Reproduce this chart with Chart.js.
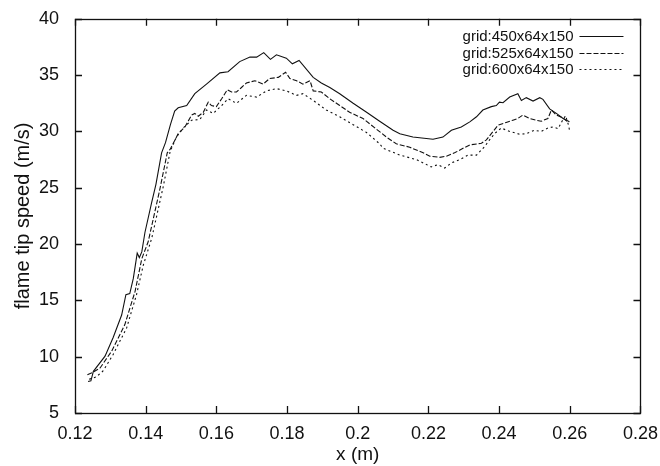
<!DOCTYPE html>
<html>
<head>
<meta charset="utf-8">
<script src="https://cdn.jsdelivr.net/npm/chart.js@4/dist/chart.umd.min.js"></script>
<style>
    html, body { margin: 0; padding: 0; background: #fff; }
    #wrap { width: 660px; height: 466px; }
</style>
</head>
<body>
<div id="wrap"><canvas id="chart" width="660" height="466"></canvas></div>
<script>
const seriesLabels = ['grid:450x64x150', 'grid:525x64x150', 'grid:600x64x150'];

/* grid 450x64x150 (solid) */
const x450 = [0.1237, 0.1245, 0.1252, 0.1285, 0.1308, 0.1332, 0.1344, 0.1355, 0.1365, 0.1376, 0.1382, 0.1389, 0.1398, 0.1417, 0.1429, 0.1445, 0.1456, 0.147, 0.1482, 0.1492, 0.1516, 0.1539, 0.1572, 0.161, 0.1633, 0.1666, 0.1695, 0.1714, 0.1734, 0.1753, 0.177, 0.1798, 0.1815, 0.1834, 0.1874, 0.1897, 0.1921, 0.1949, 0.1987, 0.2025, 0.2062, 0.21, 0.2119, 0.2156, 0.2213, 0.2241, 0.2265, 0.2293, 0.2317, 0.2336, 0.2354, 0.2378, 0.2392, 0.2401, 0.2411, 0.243, 0.2453, 0.2463, 0.2477, 0.2496, 0.2515, 0.2524, 0.2543, 0.2562, 0.2581, 0.2599];
const y450 = [7.8, 7.85, 8.7, 10.05, 11.7, 13.7, 15.5, 15.6, 16.95, 19.2, 18.8, 19.3, 21.05, 23.7, 25.3, 28.1, 29.0, 30.6, 31.8, 32.1, 32.3, 33.35, 34.2, 35.2, 35.3, 36.2, 36.6, 36.6, 37.0, 36.4, 36.8, 36.5, 36.0, 36.3, 34.8, 34.3, 33.9, 33.35, 32.5, 31.7, 30.9, 30.1, 29.8, 29.5, 29.3, 29.5, 30.1, 30.4, 30.85, 31.3, 31.9, 32.2, 32.3, 32.6, 32.55, 33.05, 33.35, 32.75, 33.0, 32.7, 33.0, 32.85, 32.0, 31.6, 31.15, 30.85];

/* grid 525x64x150 (dashed) */
const x525 = [0.1235, 0.125, 0.1271, 0.1304, 0.1341, 0.137, 0.1389, 0.1407, 0.144, 0.1461, 0.1469, 0.1492, 0.1511, 0.153, 0.1539, 0.1549, 0.1563, 0.1577, 0.1586, 0.16, 0.1615, 0.1631, 0.1643, 0.1657, 0.1671, 0.1685, 0.1709, 0.1732, 0.1751, 0.1775, 0.1796, 0.1808, 0.1827, 0.1845, 0.1865, 0.1874, 0.1897, 0.1921, 0.1949, 0.1977, 0.2015, 0.2053, 0.2081, 0.2109, 0.2147, 0.2185, 0.2204, 0.2232, 0.2251, 0.2274, 0.2298, 0.2317, 0.235, 0.2364, 0.2378, 0.2397, 0.242, 0.2439, 0.2453, 0.2467, 0.2486, 0.2505, 0.2519, 0.2538, 0.2548, 0.2562, 0.2581, 0.2595];
const y525 = [8.4, 8.6, 9.0, 10.5, 12.85, 15.8, 18.7, 20.2, 24.85, 28.1, 28.4, 29.8, 30.4, 31.45, 31.6, 31.35, 31.7, 32.6, 32.3, 32.2, 32.9, 33.7, 33.5, 33.5, 33.9, 34.3, 34.5, 34.2, 34.7, 34.8, 35.25, 34.7, 34.5, 34.2, 34.5, 33.6, 33.5, 32.9, 32.3, 31.7, 31.15, 30.2, 29.5, 28.9, 28.6, 28.1, 27.8, 27.7, 27.8, 28.1, 28.5, 28.8, 28.95, 29.25, 29.8, 30.55, 30.8, 31.0, 31.15, 31.45, 31.15, 31.0, 30.9, 31.15, 31.9, 31.45, 31.2, 30.8];

/* grid 600x64x150 (dotted) */
const x600 = [0.124, 0.126, 0.128, 0.1308, 0.1346, 0.1374, 0.1393, 0.1417, 0.145, 0.1469, 0.1487, 0.1506, 0.153, 0.1553, 0.1572, 0.1591, 0.1615, 0.1633, 0.1657, 0.1685, 0.1714, 0.1742, 0.177, 0.1798, 0.1827, 0.1845, 0.1874, 0.1911, 0.1949, 0.1987, 0.2025, 0.2062, 0.2072, 0.2119, 0.2166, 0.2208, 0.2227, 0.2246, 0.2265, 0.2289, 0.2312, 0.2336, 0.2359, 0.2373, 0.2387, 0.2406, 0.243, 0.2458, 0.2477, 0.25, 0.2519, 0.2538, 0.2552, 0.2567, 0.2578, 0.2588, 0.2596, 0.26];
const y600 = [8.0, 8.2, 8.75, 10.2, 12.55, 15.5, 18.1, 20.5, 25.15, 28.2, 29.5, 30.3, 31.0, 31.05, 31.9, 31.6, 32.3, 32.9, 32.5, 33.2, 33.05, 33.6, 33.8, 33.6, 33.2, 33.35, 32.75, 31.9, 31.3, 30.6, 29.9, 28.9, 28.5, 27.9, 27.5, 26.85, 27.05, 26.75, 27.2, 27.5, 27.9, 27.9, 28.65, 29.25, 29.8, 30.3, 30.0, 29.75, 29.8, 30.1, 30.0, 30.3, 30.4, 30.25, 30.9, 31.4, 30.6, 30.0];

const xTicks = [0.12, 0.14, 0.16, 0.18, 0.2, 0.22, 0.24, 0.26, 0.28];
const yTicks = [5, 10, 15, 20, 25, 30, 35, 40];

const FONT = "'Liberation Sans', Arial, Helvetica, sans-serif";
const INK = '#111';

const toPoints = (xs, ys) => xs.map((x, i) => ({x: x, y: ys[i]}));

// gnuplot style frame with ticks on all four sides, pointing in
const framePlugin = {
    id: 'frame',
    afterDraw(chart) {
        const {ctx, chartArea: a, scales} = chart;
        const len = 7;
        ctx.save();
        ctx.strokeStyle = INK;
        ctx.lineWidth = 1.3;
        ctx.strokeRect(Math.round(a.left) + 0.5, Math.round(a.top) + 0.5,
            Math.round(a.right - a.left), Math.round(a.bottom - a.top));
        ctx.beginPath();
        xTicks.forEach(v => {
            const px = Math.round(scales.x.getPixelForValue(v)) + 0.5;
            ctx.moveTo(px, a.bottom); ctx.lineTo(px, a.bottom - len);
            ctx.moveTo(px, a.top); ctx.lineTo(px, a.top + len);
        });
        yTicks.forEach(v => {
            const py = Math.round(scales.y.getPixelForValue(v)) + 0.5;
            ctx.moveTo(a.left, py); ctx.lineTo(a.left + len, py);
            ctx.moveTo(a.right, py); ctx.lineTo(a.right - len, py);
        });
        ctx.stroke();
        ctx.restore();
    }
};

// key in the top right corner: label then line sample
const keyPlugin = {
    id: 'key',
    afterDraw(chart) {
        const {ctx, chartArea: a} = chart;
        ctx.save();
        ctx.font = '15px ' + FONT;
        ctx.fillStyle = INK;
        ctx.textAlign = 'right';
        ctx.textBaseline = 'middle';
        chart.data.datasets.forEach((ds, i) => {
            const y = Math.round(a.top + 17.5 + i * 16.2) + 0.5;
            ctx.fillText(ds.label, a.right - 67, y);
            ctx.strokeStyle = INK;
            ctx.lineWidth = 1;
            ctx.setLineDash(ds.borderDash || []);
            ctx.beginPath();
            ctx.moveTo(a.right - 61, y);
            ctx.lineTo(a.right - 17, y);
            ctx.stroke();
        });
        ctx.restore();
    }
};

const lineStyle = (dash) => ({
    showLine: true,
    borderColor: INK,
    borderWidth: 1.1,
    borderDash: dash,
    pointRadius: 0,
    tension: 0,
    fill: false
});

const ctx = document.getElementById('chart');
new Chart(ctx, {
    type: 'scatter',
    data: {
        datasets: [
            Object.assign({label: seriesLabels[0], data: toPoints(x450, y450)}, lineStyle([])),
            Object.assign({label: seriesLabels[1], data: toPoints(x525, y525)}, lineStyle([5, 2])),
            Object.assign({label: seriesLabels[2], data: toPoints(x600, y600)}, lineStyle([2, 3]))
        ]
    },
    options: {
        responsive: false,
        animation: false,
        layout: {
            padding: {left: 0, right: 19, top: 14, bottom: 0}
        },
        plugins: {
            legend: {display: false},
            tooltip: {enabled: false}
        },
        scales: {
            x: {
                type: 'linear',
                min: 0.12,
                max: 0.28,
                afterFit: (s) => { s.height = 53; },
                afterBuildTicks: (s) => { s.ticks = xTicks.map(v => ({value: v})); },
                grid: {display: false},
                border: {display: false},
                ticks: {
                    color: INK,
                    padding: 2,
                    maxRotation: 0,
                    autoSkip: false,
                    font: {family: FONT, size: 18},
                    callback: (v) => String(+v.toFixed(2))
                },
                title: {
                    display: true,
                    text: 'x (m)',
                    color: INK,
                    font: {family: FONT, size: 19},
                    padding: {top: 0, bottom: 0}
                }
            },
            y: {
                min: 5,
                max: 40,
                afterFit: (s) => { s.width = 75; },
                afterBuildTicks: (s) => { s.ticks = yTicks.map(v => ({value: v})); },
                grid: {display: false},
                border: {display: false},
                ticks: {
                    color: INK,
                    padding: 8,
                    autoSkip: false,
                    font: {family: FONT, size: 18}
                },
                title: {
                    display: true,
                    text: 'flame tip speed (m/s)',
                    color: INK,
                    font: {family: FONT, size: 20},
                    padding: {top: 11, bottom: 0}
                }
            }
        }
    },
    plugins: [framePlugin, keyPlugin]
});
</script>
</body>
</html>
